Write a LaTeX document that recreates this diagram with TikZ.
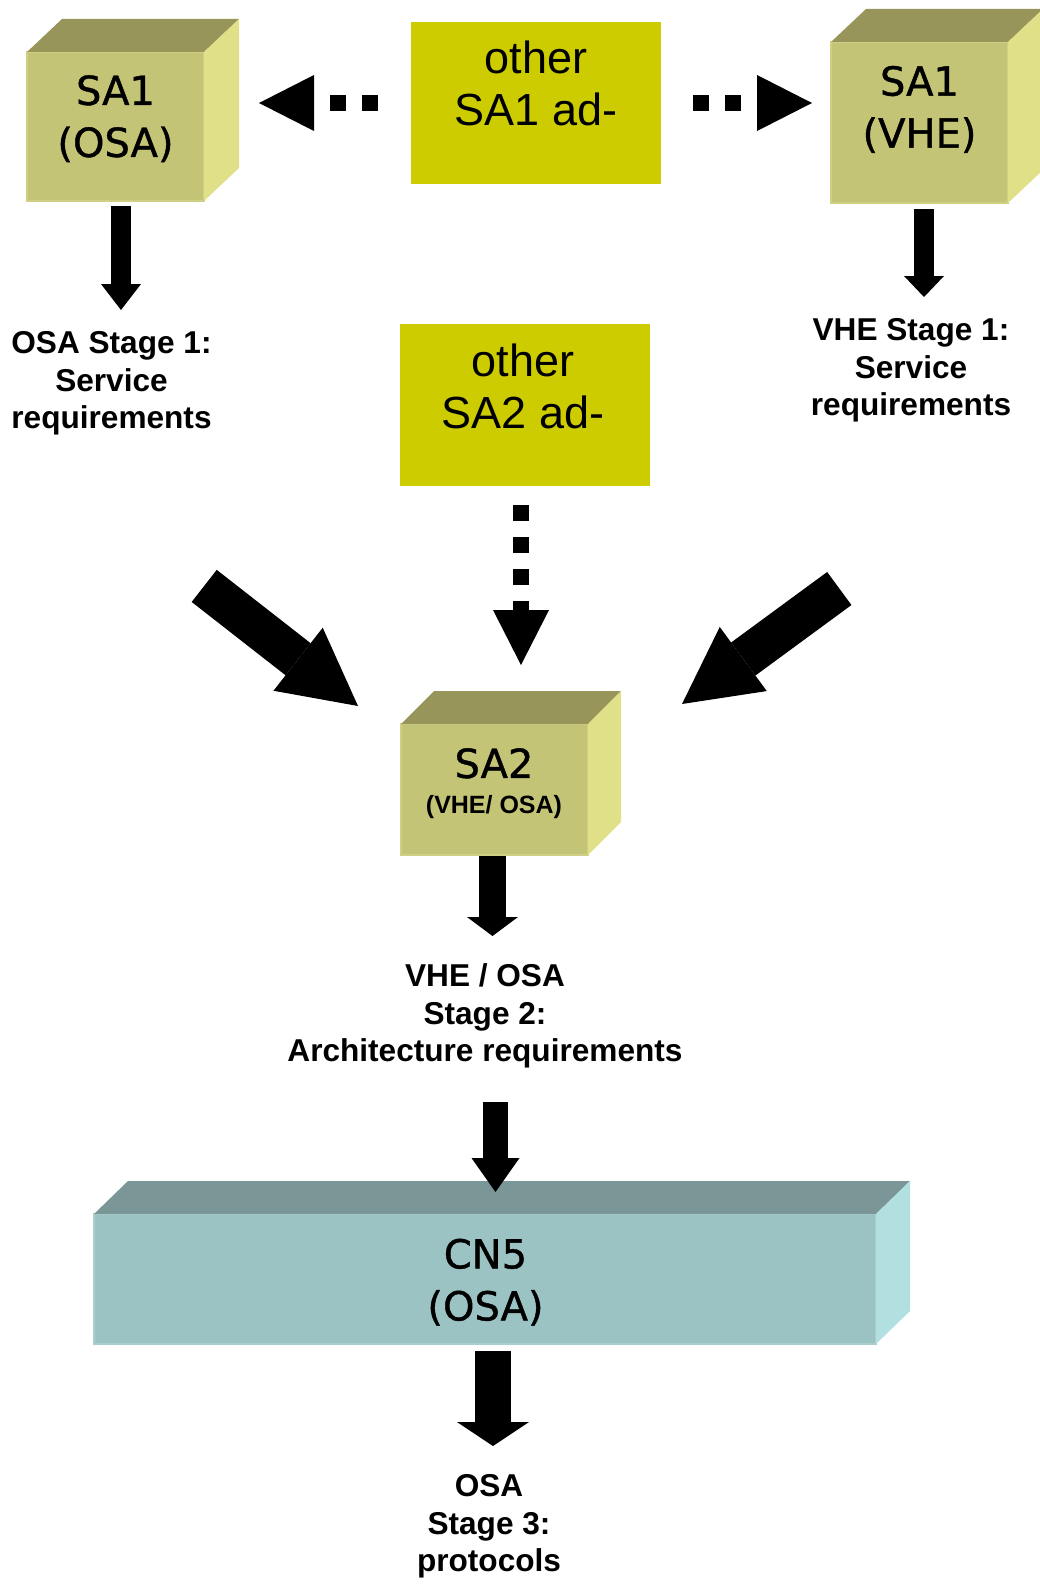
\documentclass[tikz,border=0pt]{standalone}
\usepackage{fontspec}
\setmainfont{Liberation Sans}
\newfontfamily\cubefont[FakeBold=1]{DejaVu Sans}
\usepackage{tikz}
\usetikzlibrary{arrows.meta, calc}
\definecolor{cubefront}{RGB}{196,196,118}
\definecolor{cubetop}{RGB}{152,149,90}
\definecolor{cubeside}{RGB}{224,224,136}
\definecolor{cubeedge}{RGB}{208,208,132}
\definecolor{barfront}{RGB}{156,195,195}
\definecolor{bartop}{RGB}{122,150,150}
\definecolor{barside}{RGB}{178,224,224}
\definecolor{baredge}{RGB}{170,206,206}
\definecolor{adfill}{RGB}{204,204,0}

\tikzset{
  cube/.style={fill=cubefront, draw=cubeedge, line width=2pt, inner sep=0pt, outer sep=0pt},
  bar/.style={fill=barfront, draw=baredge, line width=2pt, inner sep=0pt, outer sep=0pt},
  ad/.style={fill=adfill, inner sep=0pt, outer sep=0pt, minimum width=250pt, minimum height=162pt},
  cubetext/.style={font=\cubefont\fontsize{40}{52}\selectfont, align=center, inner sep=0pt, anchor=north},
  subtext/.style={font=\bfseries\fontsize{25}{30}\selectfont, inner sep=0pt, anchor=north},
  adtext/.style={font=\fontsize{45}{52}\selectfont, align=center, inner sep=0pt, anchor=north},
  stagetext/.style={font=\bfseries\fontsize{31.6}{37.5}\selectfont, align=center, inner sep=0pt, anchor=north},
  fat/.style n args={3}{line width=#1, -{Triangle[length=#2, width=#3, line width=0pt]}},
  dotarrow/.style={line width=16pt, dash pattern=on 16pt off 16pt, -{Triangle[length=55pt, width=56pt, line width=0pt]}}
}

% top and right faces behind a front face node
\newcommand{\depthfaces}[4]{%
  \fill[#3] (#1.north west) -- ++(#2) -- ($(#1.north east)+(#2)$) -- (#1.north east) -- cycle;
  \fill[#4] (#1.north east) -- ++(#2) -- ($(#1.south east)+(#2)$) -- (#1.south east) -- cycle;
}

\begin{document}
\begin{tikzpicture}[x=1pt, y=-1pt]
\useasboundingbox (0,0) rectangle (1040,1584);
\pgfmathsetmacro{\cubeX}{35}
\pgfmathsetmacro{\cubeY}{-33}

% boxes
\node[cube, minimum width=177pt, minimum height=149pt] (osa) at (115.5,126.5) {};
\node[cube, minimum width=177pt, minimum height=161pt] (vhe) at (919.5,122.5) {};
\node[cube, minimum width=187pt, minimum height=131pt] (sa2) at (494.5,789.5) {};
\node[bar, minimum width=782pt, minimum height=130pt] (cn5) at (485,1279) {};
\depthfaces{osa}{\cubeX,\cubeY}{cubetop}{cubeside}
\depthfaces{vhe}{\cubeX,\cubeY}{cubetop}{cubeside}
\depthfaces{sa2}{33,-33}{cubetop}{cubeside}
\depthfaces{cn5}{34,-33}{bartop}{barside}
\node[ad] (ad1) at (536,103) {};
\node[ad] (ad2) at (525,405) {};

% texts
\node[cubetext] (osa-txt) at (115.5,75) {SA1\\(OSA)};
\node[cubetext] (vhe-txt) at (919.5,65.7) {SA1\\(VHE)};
\node[cubetext] (sa2-txt) at (494,748) {SA2};
\node[subtext] (sa2-sub) at (494,795.5) {(VHE/ OSA)};
\node[cubetext] (cn5-txt) at (485.5,1238.5) {CN5\\(OSA)};
\node[adtext] (ad1-txt) at (536,41) {other\\SA1 ad-};
\node[adtext] (ad2-txt) at (523,344) {other\\SA2 ad-};
\node[stagetext] (osa-lbl) at (111.5,331.6) {OSA Stage 1:\\Service\\requirements};
\node[stagetext] (vhe-lbl) at (911,318.3) {VHE Stage 1:\\Service\\requirements};
\node[stagetext] (sa2-lbl) at (485,963.6) {VHE / OSA\\Stage 2:\\Architecture requirements};
\node[stagetext] (cn5-lbl) at (489,1474.6) {OSA\\Stage 3:\\protocols};

% dotted arrows
\draw[dotarrow, shorten <=33pt, shorten >=20pt] (ad1.west) -- ($(ad1.west -| osa.east)+(\cubeX,0)$);
\draw[dotarrow, shorten <=32pt, shorten >=19pt] (ad1.east) -- (ad1.east -| vhe.west);
\draw[dotarrow, shorten <=19pt, shorten >=59pt] ([xshift=-4pt]ad2.south) -- ([xshift=-4pt]ad2.south |- sa2.north);

% block arrows
\draw[fat={20pt}{26pt}{40pt}, shorten <=5pt, shorten >=21.6pt] ([xshift=5.5pt]osa.south) -- ([xshift=5.5pt]osa.south |- osa-lbl.north);
\draw[fat={20pt}{21pt}{40pt}, shorten <=6pt, shorten >=21.3pt] ([xshift=4.5pt]vhe.south) -- ([xshift=4.5pt]vhe.south |- vhe-lbl.north);
\draw[fat={27pt}{19pt}{51pt}, shorten <=1pt, shorten >=27.6pt] ([xshift=-2pt]sa2.south) -- ([xshift=-2pt]sa2.south |- sa2-lbl.north);
\draw[fat={25pt}{34pt}{48pt}, shorten <=34pt, shorten >=22pt] ([xshift=10.5pt]cn5.north |- sa2-lbl.south) -- ([xshift=10.5pt]cn5.north);
\draw[fat={36pt}{24pt}{72pt}, shorten <=7pt, shorten >=28.6pt] ([xshift=8pt]cn5.south) -- ([xshift=8pt]cn5.south |- cn5-lbl.north);

\coordinate (l-tail) at (204.2,585.9);
\coordinate (l-tip) at (358,706);
\coordinate (r-tail) at (839.3,588.5);
\coordinate (r-tip) at (682,704);
\draw[fat={40.7pt}{76pt}{80pt}] (l-tail) -- (l-tip);
\draw[fat={41pt}{76pt}{79.5pt}] (r-tail) -- (r-tip);
\end{tikzpicture}
\end{document}
